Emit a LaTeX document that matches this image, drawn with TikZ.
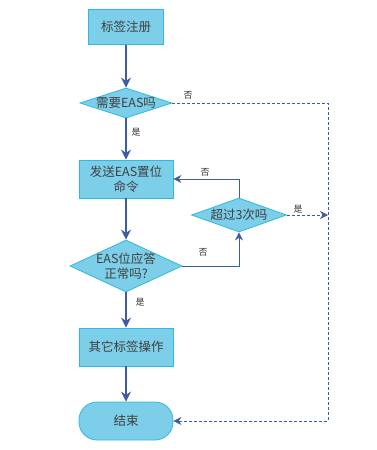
\documentclass[tikz,border=0pt]{standalone}
\usepackage{fontspec}
\newfontfamily\cjk{Noto Sans CJK SC}
\usetikzlibrary{positioning, arrows.meta, shapes.geometric}
\definecolor{boxcyan}{RGB}{125,206,232}
\definecolor{boxedge}{RGB}{45,185,225}
\definecolor{linkblue}{RGB}{62,92,160}
\tikzset{
  fnode/.style={draw=boxedge, fill=boxcyan, align=center, text=black!75, line width=0.8pt,
    font=\cjk\fontsize{12.5}{15}\selectfont},
  stepbox/.style={fnode, rectangle, inner sep=2pt, minimum width=94pt, minimum height=38pt},
  ask/.style={fnode, diamond, inner sep=-3pt, aspect=#1},
  endbox/.style={stepbox, rounded corners=18pt},
  arr/.style={-{Stealth[length=10pt, width=10pt]}, draw=linkblue, line width=1.5pt},
  back/.style={-{Stealth[length=8pt, width=8pt]}, draw=linkblue, line width=0.8pt},
  skip/.style={back, densely dashed},
  lbl/.style={font=\cjk\fontsize{9}{9}\selectfont, text=black!80, inner sep=1pt},
}
\begin{document}
\begin{tikzpicture}[x=1pt, y=-1pt]
  \useasboundingbox (0,0) rectangle (376,450);
  % blocks of the main column
  \node[stepbox, minimum width=75pt, minimum height=35pt] (reg) at (126,27) {标签注册};
  \node[ask=3, minimum width=92pt, minimum height=30pt] (need) at (126,103) {需要EAS吗};
  \node[stepbox] (send) at (126,179) {发送EAS置位\\命令};
  \node[ask=2.2, minimum width=112pt, minimum height=52pt] (resp) at (126,266) {EAS位应答\\正常吗?};
  \node[ask=2.8, minimum width=95pt, minimum height=34pt] (retry) at (239,215) {超过3次吗};
  \node[stepbox] (other) at (126,347) {其它标签操作};
  \node[endbox] (done) at (126,421) {结束};
  \coordinate (railtop) at (328,103);
  \coordinate (railbot) at (328,421);
  % main flow
  \draw[arr] (reg) -- (need);
  \draw[arr] (need) -- (send);
  \draw[arr] (send) -- (resp);
  \draw[arr] (resp) -- (other);
  \draw[arr] (other) -- (done);
  % retry loop
  \draw[back] (resp.east) -| (retry.south);
  \draw[back] (retry.north) |- (send.east);
  % skip to the end
  \draw[skip] (need.east) -| (railbot) -- (done.east);
  \draw[skip] (retry.east) -- (retry.east -| railtop);
  % branch labels
  \node[lbl] (needno) at (188,95) {否};
  \node[lbl] (needyes) at (136,132) {是};
  \node[lbl] (retryno) at (205,172) {否};
  \node[lbl] (retryyes) at (298,209) {是};
  \node[lbl] (respno) at (203,252) {否};
  \node[lbl] (respyes) at (140,302) {是};
\end{tikzpicture}
\end{document}
